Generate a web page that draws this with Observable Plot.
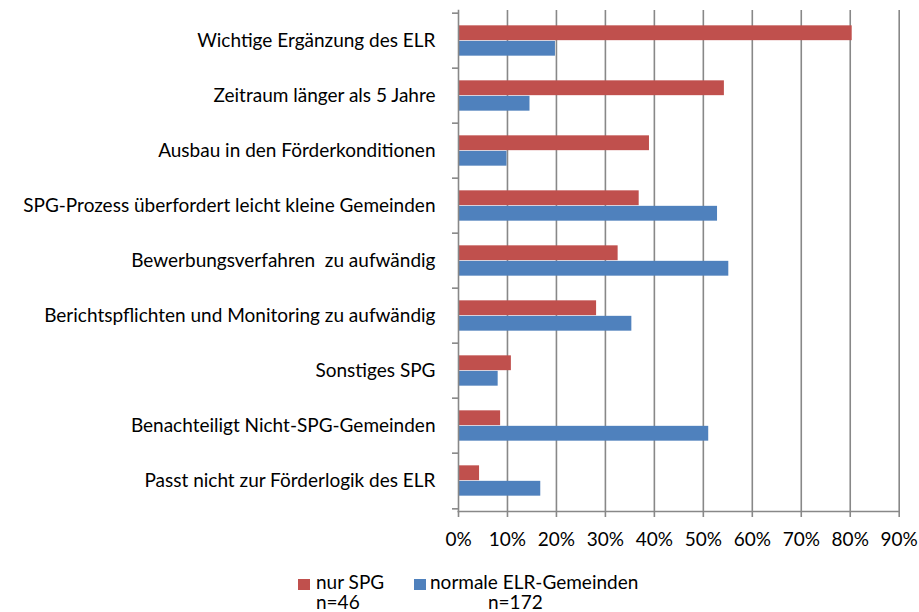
<!DOCTYPE html>
<html>
<head>
<meta charset="utf-8">
<script src="https://cdn.jsdelivr.net/npm/d3@7"></script>
<script src="https://cdn.jsdelivr.net/npm/@observablehq/plot@0.6"></script>
<style>
  html, body { margin: 0; padding: 0; background: #fff; }
  body { width: 919px; height: 612px; position: relative; overflow: hidden; font-family: Lato, "Open Sans", sans-serif; }
  #chart { position: absolute; left: 0; top: 0; }
  .lg { position: absolute; font-size: 19px; line-height: 20px; color: #000; white-space: nowrap; }
  .sw { position: absolute; width: 12px; height: 11px; }
</style>
</head>
<body>
<div id="chart"></div>
<div class="sw" style="left:298px; top:579px; background:#C0504D"></div>
<div class="lg" style="left:316px; top:572px">nur SPG<br>n=46</div>
<div class="sw" style="left:414px; top:579px; background:#4F81BD"></div>
<div class="lg" style="left:430px; top:572px">normale ELR-Gemeinden<br><span style="margin-left:58px">n=172</span></div>
<script>
const categories = [
  "Wichtige Ergänzung des ELR",
  "Zeitraum länger als 5 Jahre",
  "Ausbau in den Förderkonditionen",
  "SPG-Prozess überfordert leicht kleine Gemeinden",
  "Bewerbungsverfahren  zu aufwändig",
  "Berichtspflichten und Monitoring zu aufwändig",
  "Sonstiges SPG",
  "Benachteiligt Nicht-SPG-Gemeinden",
  "Passt nicht zur Förderlogik des ELR"
];
const nurSPG = [80.4, 54.3, 39.0, 36.9, 32.6, 28.2, 10.8, 8.6, 4.3];
const normaleELR = [19.8, 14.6, 9.9, 52.9, 55.2, 35.4, 8.1, 51.1, 16.8];
const xTicks = [0, 10, 20, 30, 40, 50, 60, 70, 80, 90];
const seriesNames = ["nur SPG", "normale ELR-Gemeinden"];
const seriesColors = ["#C0504D", "#4F81BD"];

const red = categories.map((c, i) => ({category: c, value: nurSPG[i], series: seriesNames[0]}));
const blue = categories.map((c, i) => ({category: c, value: normaleELR[i], series: seriesNames[1]}));

const bandH = 501 / categories.length;
const half = bandH / 2;
const barH = 15.5;
const axisColor = "#888888";

const chart = Plot.plot({
  width: 919,
  height: 560,
  marginLeft: 458,
  marginRight: 20.3,
  marginTop: 10,
  marginBottom: 49,
  style: {fontFamily: "Lato, 'Open Sans', sans-serif", fontSize: "19px", color: "#000", background: "#fff"},
  x: {domain: [0, 90], label: null},
  y: {domain: categories, padding: 0, label: null},
  color: {domain: seriesNames, range: seriesColors},
  marks: [
    Plot.gridX(xTicks.slice(1), {stroke: axisColor, strokeOpacity: 1, strokeWidth: 1.6}),
    Plot.barX(red, {x: "value", y: "category", fill: "series", insetTop: half - barH, insetBottom: half}),
    Plot.barX(blue, {x: "value", y: "category", fill: "series", insetTop: half, insetBottom: half - barH}),
    Plot.frame({anchor: "left", stroke: axisColor, strokeWidth: 1.6}),
    Plot.frame({anchor: "bottom", stroke: axisColor, strokeWidth: 1.6}),
    Plot.axisX({ticks: xTicks, tickSize: 6, tickPadding: 15, tickFormat: d => d + "%", stroke: axisColor, strokeWidth: 1.6, label: null, fill: "#000"}),
    Plot.axisY({tickSize: 0, tickPadding: 23, label: null, fill: "#000"}),
    Plot.axisY({tickSize: 6, tickFormat: null, dy: -half, stroke: axisColor, strokeWidth: 1.6, label: null}),
    Plot.axisY({ticks: [categories[categories.length - 1]], tickSize: 6, tickFormat: null, dy: half, stroke: axisColor, strokeWidth: 1.6, label: null})
  ]
});
document.getElementById("chart").appendChild(chart);
</script>
</body>
</html>
